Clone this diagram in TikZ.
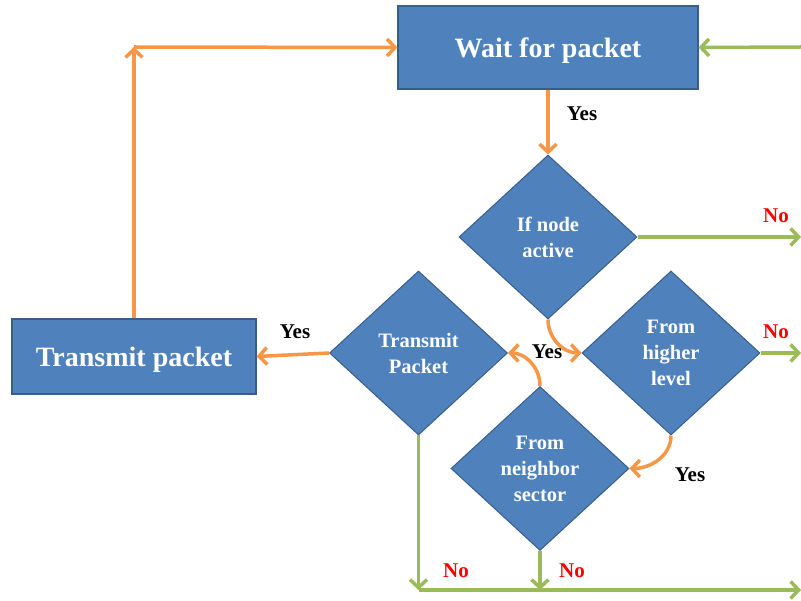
\documentclass[tikz,border=0pt]{standalone}
\usepackage{fontspec}
\setmainfont{Liberation Serif}
\usetikzlibrary{shapes.geometric,arrows.meta}
\definecolor{boxblue}{HTML}{4F81BD}
\definecolor{boxedge}{HTML}{385D8A}
\definecolor{org}{HTML}{F79646}
\definecolor{grn}{HTML}{9BBB59}
\definecolor{nored}{HTML}{FF0000}
\tikzset{
  procbox/.style={draw=boxedge, line width=1.2pt, fill=boxblue, text=white, font=\fontsize{28}{32}\selectfont\bfseries, inner sep=0pt, text height=24pt, text depth=3pt},
  decbox/.style={diamond, draw=boxedge, line width=1pt, fill=boxblue, text=white, font=\fontsize{20.5}{26}\selectfont\bfseries, align=center, inner sep=0pt, aspect=1.085, minimum width=178pt, minimum height=164pt},
  oarr/.style={draw=org, line width=3.5pt, -{Straight Barb[length=8pt,width=17pt,line width=3.5pt]}},
  garr/.style={draw=grn, line width=3.5pt, -{Straight Barb[length=8pt,width=17pt,line width=3.5pt]}},
  yeslbl/.style={font=\fontsize{21}{24}\selectfont\bfseries, text=black, inner sep=0pt},
  nolbl/.style={font=\fontsize{21}{24}\selectfont\bfseries, text=nored, inner sep=0pt}
}
\begin{document}
\begin{tikzpicture}[x=1pt,y=-1pt]
\useasboundingbox (0,0) rectangle (801,601);
% boxes
\node[procbox, minimum width=300pt, minimum height=83pt] (wait) at (548,47.5) {Wait for packet};
\node[procbox, minimum width=244pt, minimum height=75pt] (tp) at (134,356.5) {Transmit packet};
% diamonds
\node[decbox] (act) at (548,237) {If node\\active};
\node[decbox] (high) at (671,353) {From\\higher\\level};
\node[decbox] (tpk) at (418.5,353) {Transmit\\Packet};
\node[decbox] (nb) at (540,468.5) {From\\neighbor\\sector};
% coordinates
\coordinate (corner) at (134,47);
\coordinate (rtop) at (801,47);
\coordinate (ract) at (801,237);
\coordinate (rhigh) at (801,353);
\coordinate (bl) at (418.5,590);
\coordinate (bm) at (540,590);
\coordinate (br) at (801,590);
% connectors
\draw[oarr] (wait.south) -- (act.north);
\draw[garr] (act.east) -- (ract);
\draw[oarr] (act.south) to[out=-90,in=180] (high.west);
\draw[garr] (high.east) -- (rhigh);
\draw[oarr] (high.south) to[out=-90,in=0] (nb.east);
\draw[oarr] (nb.north) to[out=90,in=0] (tpk.east);
\draw[oarr] (tpk.west) -- (tp.east);
\draw[garr] (tpk.south) -- (bl);
\draw[garr] (nb.south) -- (bm);
\draw[garr] (bl) -- (br);
\draw[garr] (rtop) -- (wait.east);
\draw[oarr] (tp.north) -- (corner);
\draw[oarr] (corner) -- (wait.west);
% labels
\node[yeslbl] (y1) at (582,114) {Yes};
\node[nolbl] (n1) at (776,216) {No};
\node[yeslbl] (y2) at (547,352) {Yes};
\node[nolbl] (n2) at (776,332) {No};
\node[yeslbl] (y3) at (690,475) {Yes};
\node[yeslbl] (y4) at (295,332) {Yes};
\node[nolbl] (n3) at (456,571) {No};
\node[nolbl] (n4) at (572,571) {No};
\end{tikzpicture}
\end{document}
